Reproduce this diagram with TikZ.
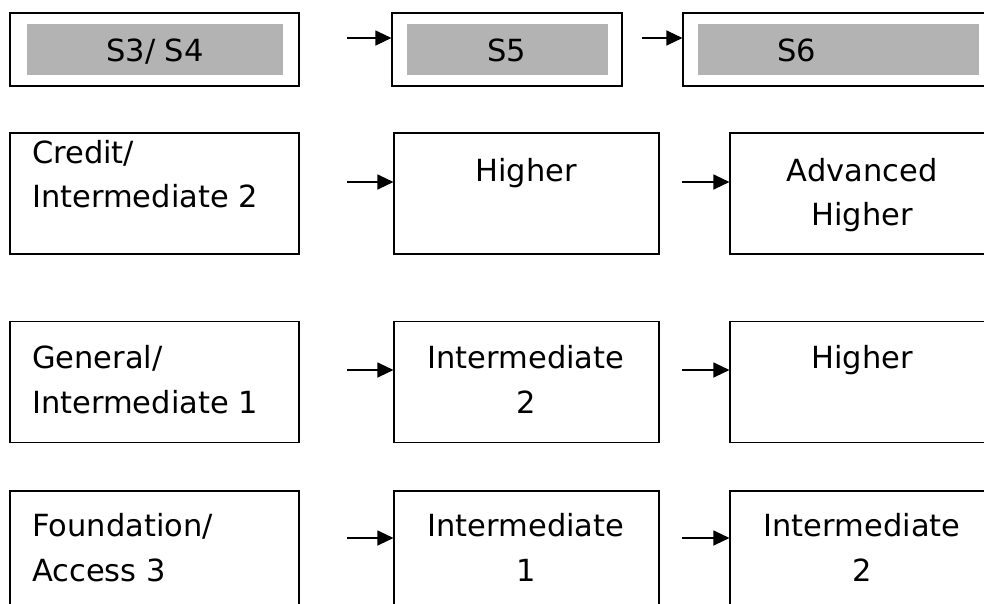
\documentclass[tikz,border=0pt]{standalone}
\usepackage{fontspec}
\setmainfont{DejaVu Sans}
\usetikzlibrary{arrows.meta}
\definecolor{headgray}{HTML}{B3B3B3}
\tikzset{
  box/.style={draw, line width=1.1pt, inner sep=0pt, rectangle},
  graybox/.style={fill=headgray, inner sep=0pt, rectangle},
  txt/.style={inner sep=0pt, anchor=base, font=\fontsize{30.5}{36}\selectfont},
  ltxt/.style={txt, anchor=base west},
  arr/.style={line width=1.1pt, -{Triangle[length=16pt,width=15pt]}}
}
\begin{document}
\begin{tikzpicture}[x=1pt, y=-1pt]
\useasboundingbox (0,0) rectangle (984,603);
\clip (0,0) rectangle (984,603);
\fill[white] (0,0) rectangle (984,603);
% header row
\node[box, minimum width=289pt, minimum height=73pt] (A0) at (154.5,49.5) {};
\node[box, minimum width=230pt, minimum height=73pt] (B0) at (507,49.5) {};
\node[box, minimum width=311pt, minimum height=73pt] (C0) at (838.5,49.5) {};
\node[graybox, minimum width=256pt, minimum height=51pt] (A0g) at (155,49.5) {};
\node[graybox, minimum width=201pt, minimum height=51pt] (B0g) at (507.5,49.5) {};
\node[graybox, minimum width=281pt, minimum height=51pt] (C0g) at (838.5,49.5) {};
\node[txt] (tA0) at (155,61) {S3/ S4};
\node[txt] (tB0) at (507,61) {S5};
\node[txt] (tC0) at (797,61) {S6};
% rows of boxes
\foreach \r/\cy in {1/193.5, 2/382, 3/551.5}{
  \node[box, minimum width=289pt, minimum height=121pt] (A\r) at (154.5,\cy) {};
  \node[box, minimum width=265pt, minimum height=121pt] (B\r) at (526.5,\cy) {};
  \node[box, minimum width=264pt, minimum height=121pt] (C\r) at (862,\cy) {};
}
% texts row 1
\node[ltxt] (tA1a) at (32,163) {Credit/};
\node[ltxt] (tA1b) at (32,207) {Intermediate 2};
\node[txt] (tB1) at (526,181) {Higher};
\node[txt] (tC1a) at (862,181) {Advanced};
\node[txt] (tC1b) at (862,225) {Higher};
% texts row 2
\node[ltxt] (tA2a) at (32,368) {General/};
\node[ltxt] (tA2b) at (32,413) {Intermediate 1};
\node[txt] (tB2a) at (526,368) {Intermediate};
\node[txt] (tB2b) at (526,413) {2};
\node[txt] (tC2) at (862,368) {Higher};
% texts row 3
\node[ltxt] (tA3a) at (32,536) {Foundation/};
\node[ltxt] (tA3b) at (32,581) {Access 3};
\node[txt] (tB3a) at (526,536) {Intermediate};
\node[txt] (tB3b) at (526,581) {1};
\node[txt] (tC3a) at (862,536) {Intermediate};
\node[txt] (tC3b) at (862,581) {2};
% arrow start points
\coordinate (s0a) at (347,38);
\coordinate (s0b) at (642,38);
\coordinate (s1a) at (347,182);
\coordinate (s1b) at (682,182);
\coordinate (s2a) at (347,370);
\coordinate (s2b) at (682,370);
\coordinate (s3a) at (347,538);
\coordinate (s3b) at (682,538);
\draw[arr] (s0a) -- (B0.west |- s0a);
\draw[arr] (s0b) -- (C0.west |- s0b);
\draw[arr] (s1a) -- (B1.west |- s1a);
\draw[arr] (s1b) -- (C1.west |- s1b);
\draw[arr] (s2a) -- (B2.west |- s2a);
\draw[arr] (s2b) -- (C2.west |- s2b);
\draw[arr] (s3a) -- (B3.west |- s3a);
\draw[arr] (s3b) -- (C3.west |- s3b);
\end{tikzpicture}
\end{document}
